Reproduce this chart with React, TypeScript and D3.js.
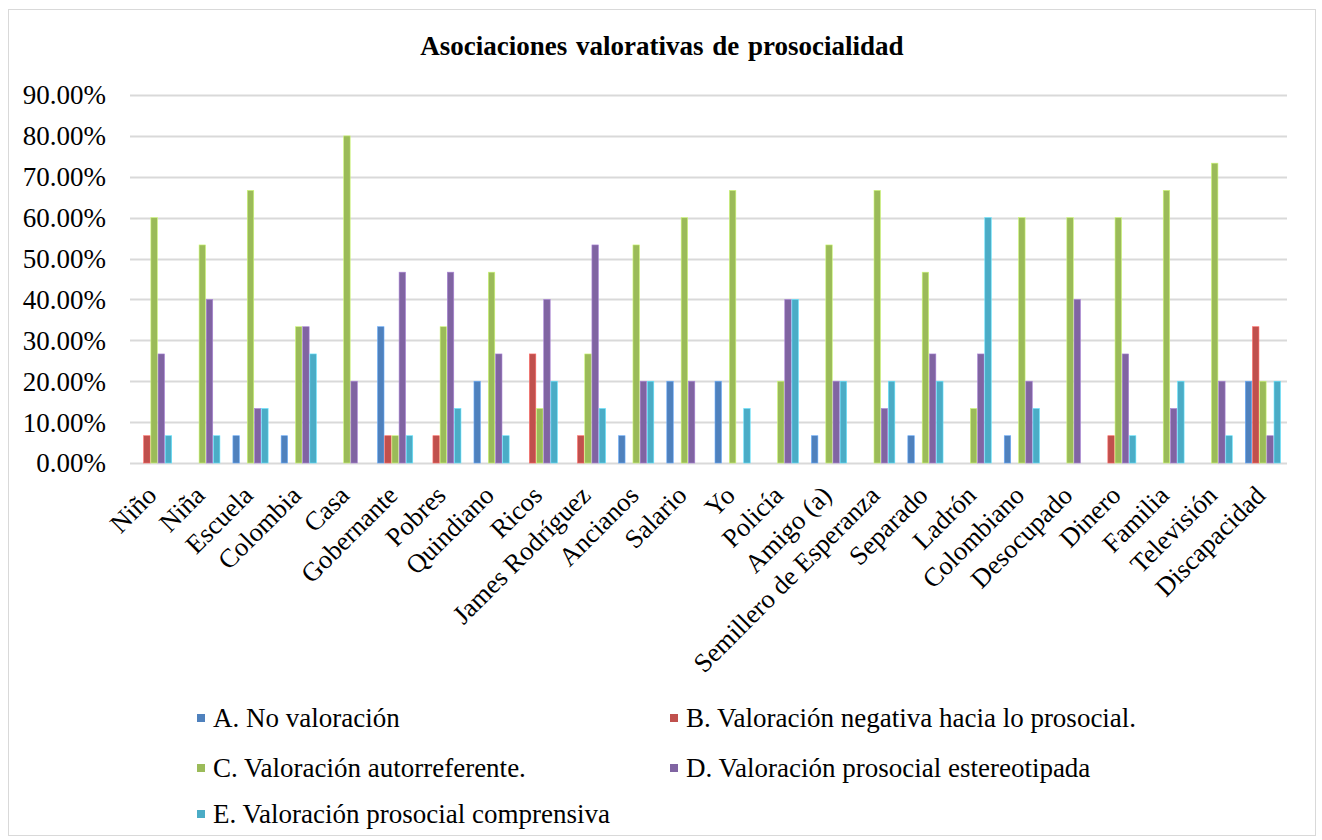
import React, { useEffect, useRef } from 'react';
import * as d3 from 'd3';

const categories = [
  'Niño', 'Niña', 'Escuela', 'Colombia', 'Casa', 'Gobernante', 'Pobres', 'Quindiano',
  'Ricos', 'James Rodríguez', 'Ancianos', 'Salario', 'Yo', 'Policía', 'Amigo (a)',
  'Semillero de Esperanza', 'Separado', 'Ladrón', 'Colombiano', 'Desocupado', 'Dinero',
  'Familia', 'Televisión', 'Discapacidad',
];

const seriesNames = [
  'A. No valoración',
  'B. Valoración negativa hacia lo prosocial.',
  'C. Valoración autorreferente.',
  'D. Valoración prosocial estereotipada',
  'E. Valoración prosocial comprensiva',
];

const noValoracion = [0, 0, 6.67, 6.67, 0, 33.33, 0, 20, 0, 0, 6.67, 20, 20, 0, 6.67, 0, 6.67, 0, 6.67, 0, 0, 0, 0, 20];
const negativa = [6.67, 0, 0, 0, 0, 6.67, 6.67, 0, 26.67, 6.67, 0, 0, 0, 0, 0, 0, 0, 0, 0, 0, 6.67, 0, 0, 33.33];
const autorreferente = [60, 53.33, 66.67, 33.33, 80, 6.67, 33.33, 46.67, 13.33, 26.67, 53.33, 60, 66.67, 20, 53.33, 66.67, 46.67, 13.33, 60, 60, 60, 66.67, 73.33, 20];
const estereotipada = [26.67, 40, 13.33, 33.33, 20, 46.67, 46.67, 26.67, 40, 53.33, 20, 20, 0, 40, 20, 13.33, 26.67, 26.67, 20, 40, 26.67, 13.33, 20, 6.67];
const comprensiva = [6.67, 6.67, 13.33, 26.67, 0, 6.67, 13.33, 6.67, 20, 13.33, 20, 0, 13.33, 40, 20, 20, 20, 60, 13.33, 0, 6.67, 20, 6.67, 20];

const yTicks = [0, 10, 20, 30, 40, 50, 60, 70, 80, 90];
const colors = ['#4F81BD', '#C0504D', '#9BBB59', '#8064A2', '#4BACC6'];

const width = 1322;
const height = 840;
const font = '"Liberation Serif", "Times New Roman", serif';

export default function App() {
  const ref = useRef<SVGSVGElement>(null);

  useEffect(() => {
    const svg = d3.select(ref.current);
    svg.selectAll('*').remove();

    const series = [noValoracion, negativa, autorreferente, estereotipada, comprensiva];
    const left = 130;
    const right = 1287;
    const top = 95;
    const bottom = 463;

    // chart frame
    svg.append('rect')
      .attr('x', 8.5).attr('y', 9.5)
      .attr('width', 1307).attr('height', 826)
      .attr('fill', '#fff')
      .attr('stroke', '#d9d9d9');

    svg.append('text')
      .attr('x', 662).attr('y', 55)
      .attr('text-anchor', 'middle')
      .attr('font-family', font)
      .attr('font-weight', 'bold')
      .attr('font-size', 27)
      .attr('word-spacing', 2)
      .text('Asociaciones  valorativas  de  prosocialidad');

    const x = d3.scaleBand<string>()
      .domain(categories)
      .range([left, right])
      .paddingInner(0.24)
      .paddingOuter(0.12);

    const xInner = d3.scaleBand<number>()
      .domain(d3.range(series.length))
      .range([0, x.bandwidth()])
      .padding(0.1);

    const y = d3.scaleLinear().domain([0, 90]).range([bottom, top]);

    const grid = svg.append('g');
    grid.selectAll('line')
      .data(yTicks)
      .enter()
      .append('line')
      .attr('x1', left)
      .attr('x2', right)
      .attr('y1', d => Math.round(y(d)) + 0.5)
      .attr('y2', d => Math.round(y(d)) + 0.5)
      .attr('stroke', '#d9d9d9')
      .attr('stroke-width', 2);

    grid.selectAll('text')
      .data(yTicks)
      .enter()
      .append('text')
      .attr('x', 106)
      .attr('y', d => y(d))
      .attr('dy', '0.35em')
      .attr('text-anchor', 'end')
      .attr('font-family', font)
      .attr('font-size', 27)
      .text(d => `${d.toFixed(2)}%`);

    series.forEach((vals, si) => {
      svg.append('g')
        .selectAll('rect')
        .data(vals)
        .enter()
        .append('rect')
        .attr('x', (_, i) => (x(categories[i]) as number) + (xInner(si) as number))
        .attr('y', d => y(d))
        .attr('width', xInner.bandwidth())
        .attr('height', d => bottom - y(d))
        .attr('fill', colors[si])
        .attr('stroke', d3.color(colors[si])!.brighter(0.8).toString())
        .attr('stroke-width', d => (d > 0 ? 0.6 : 0));
    });

    svg.append('g')
      .selectAll('text')
      .data(categories)
      .enter()
      .append('text')
      .attr('transform', d => `translate(${(x(d) as number) + x.bandwidth() / 2 + 4},${bottom + 34}) rotate(-45)`)
      .attr('text-anchor', 'end')
      .attr('font-family', font)
      .attr('font-size', 26.5)
      .text(d => d);

    const legendPos = [
      [197, 718], [670, 718], [197, 768], [670, 768], [197, 814],
    ];
    const legend = svg.append('g');
    seriesNames.forEach((name, i) => {
      const [lx, ly] = legendPos[i];
      legend.append('rect')
        .attr('x', lx).attr('y', ly - 4)
        .attr('width', 8).attr('height', 8)
        .attr('fill', colors[i]);
      legend.append('text')
        .attr('x', lx + 16).attr('y', ly)
        .attr('dy', '0.35em')
        .attr('font-family', font)
        .attr('font-size', 27)
        .text(name);
    });
  }, []);

  return (
    <svg ref={ref} width={width} height={height} style={{ position: 'absolute', left: 0, top: 0 }} />
  );
}
